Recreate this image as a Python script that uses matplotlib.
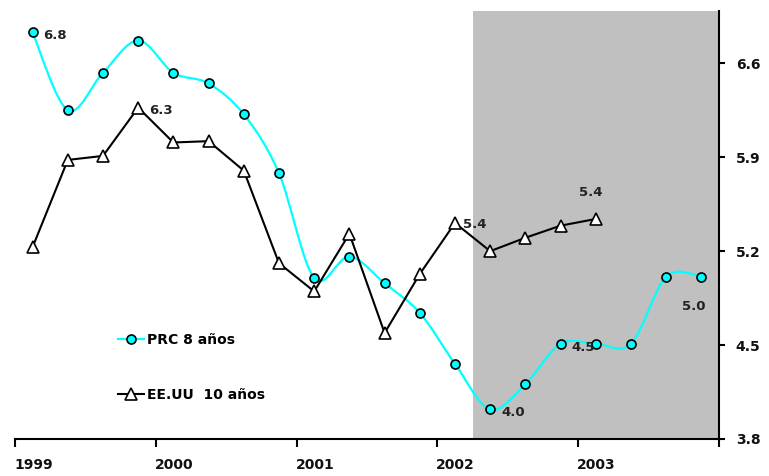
import numpy as np
import matplotlib
matplotlib.use("Agg")
import matplotlib.pyplot as plt
from matplotlib.path import Path
from matplotlib.patches import PathPatch
from matplotlib.lines import Line2D

# datos trimestrales 1999-2003
prc_8 = [6.83, 6.25, 6.53, 6.77, 6.53, 6.45, 6.22, 5.78, 5.00, 5.16,
         4.96, 4.74, 4.36, 4.02, 4.21, 4.51, 4.51, 4.51, 5.01, 5.01]
eeuu_10 = [5.23, 5.88, 5.91, 6.27, 6.01, 6.02, 5.80, 5.11, 4.90, 5.33,
           4.59, 5.03, 5.41, 5.20, 5.30, 5.39, 5.44]
years = [1999, 2000, 2001, 2002, 2003]
y_ticks = [3.8, 4.5, 5.2, 5.9, 6.6]

# etiquetas de valores: (serie, indice, texto, dx, dy, ha)
labels = [
    ("prc", 0, "6.8", 11, -3, "left"),
    ("us", 3, "6.3", 11, -3, "left"),
    ("us", 12, "5.4", 8, -2, "left"),
    ("us", 16, "5.4", -5, 26, "center"),
    ("prc", 13, "4.0", 11, -3, "left"),
    ("prc", 15, "4.5", 11, -4, "left"),
    ("prc", 19, "5.0", -8, -30, "center"),
]


def smooth_path(xs, ys):
    # curva suavizada tipo Excel (Bezier a traves de los puntos)
    pts = np.column_stack([xs, ys])
    n = len(pts)
    verts = [pts[0]]
    codes = [Path.MOVETO]
    for i in range(n - 1):
        p0 = pts[max(i - 1, 0)]
        p1 = pts[i]
        p2 = pts[i + 1]
        p3 = pts[min(i + 2, n - 1)]
        c1 = p1 + (p2 - p0) / 6.0
        c2 = p2 - (p3 - p1) / 6.0
        verts += [c1, c2, p2]
        codes += [Path.CURVE4] * 3
    return Path(verts, codes)


x_prc = 1999 + (np.arange(len(prc_8)) + 0.5) / 4
x_us = 1999 + (np.arange(len(eeuu_10)) + 0.5) / 4

fig = plt.figure(figsize=(7.69, 4.76), dpi=100)
ax = fig.add_axes([15 / 769, 37 / 476, 704 / 769, 428 / 476])

ax.axvspan(2002.25, 2004, color="#C0C0C0", zorder=0, lw=0)

cyan = "#00FFFF"
ax.add_patch(PathPatch(smooth_path(x_prc, prc_8), fill=False, edgecolor=cyan,
                       lw=1.6, zorder=2))
ax.plot(x_prc, prc_8, ls="none", marker="o", ms=6.5, mfc=cyan, mec="black",
        mew=1.2, zorder=3)
ax.plot(x_us, eeuu_10, color="black", lw=1.5, marker="^", ms=8, mfc="white",
        mec="black", mew=1.2, zorder=4)

series = {"prc": (x_prc, prc_8), "us": (x_us, eeuu_10)}
for key, i, txt, dx, dy, ha in labels:
    xs, ys = series[key]
    ax.annotate(txt, (xs[i], ys[i]), xytext=(dx, dy), textcoords="offset pixels",
                ha=ha, va="center", fontsize=9.5, fontweight="bold",
                color="#222222", zorder=5)

ax.set_xlim(1999, 2004)
ax.set_ylim(3.8, 6.99)

for s in ["left", "top"]:
    ax.spines[s].set_visible(False)
for s in ["right", "bottom"]:
    ax.spines[s].set_linewidth(1.5)

ax.yaxis.tick_right()
ax.set_yticks(y_ticks)
ax.set_yticklabels([f"{v:.1f}" for v in y_ticks])
ax.tick_params(axis="y", direction="out", length=4, width=1.5, pad=8,
               labelsize=10)

ax.set_xticks(years + [2004])
ax.set_xticklabels([])
ax.tick_params(axis="x", which="major", direction="out", length=6, width=1.5)
ax.set_xticks([y + 0.13 for y in years], minor=True)
ax.set_xticklabels([str(y) for y in years], minor=True)
ax.tick_params(axis="x", which="minor", length=0, pad=14, labelsize=10)
for t in ax.get_xticklabels(minor=True) + ax.get_yticklabels():
    t.set_fontweight("bold")
    t.set_color("#111111")

handles = [
    Line2D([], [], color=cyan, lw=1.6, marker="o", ms=6.5, mfc=cyan, mec="black", mew=1.2),
    Line2D([], [], color="black", lw=1.5, marker="^", ms=8, mfc="white", mec="black", mew=1.2),
]
leg = ax.legend(handles, ["PRC 8 años", "EE.UU  10 años"], loc="upper left",
                bbox_to_anchor=(97 / 704, 112 / 428),
                bbox_transform=ax.transAxes, frameon=False, handlelength=1.9,
                handletextpad=0.2, labelspacing=3.0, borderaxespad=0,
                prop={"weight": "bold", "size": 10})

fig.savefig("out.png", dpi=100)
